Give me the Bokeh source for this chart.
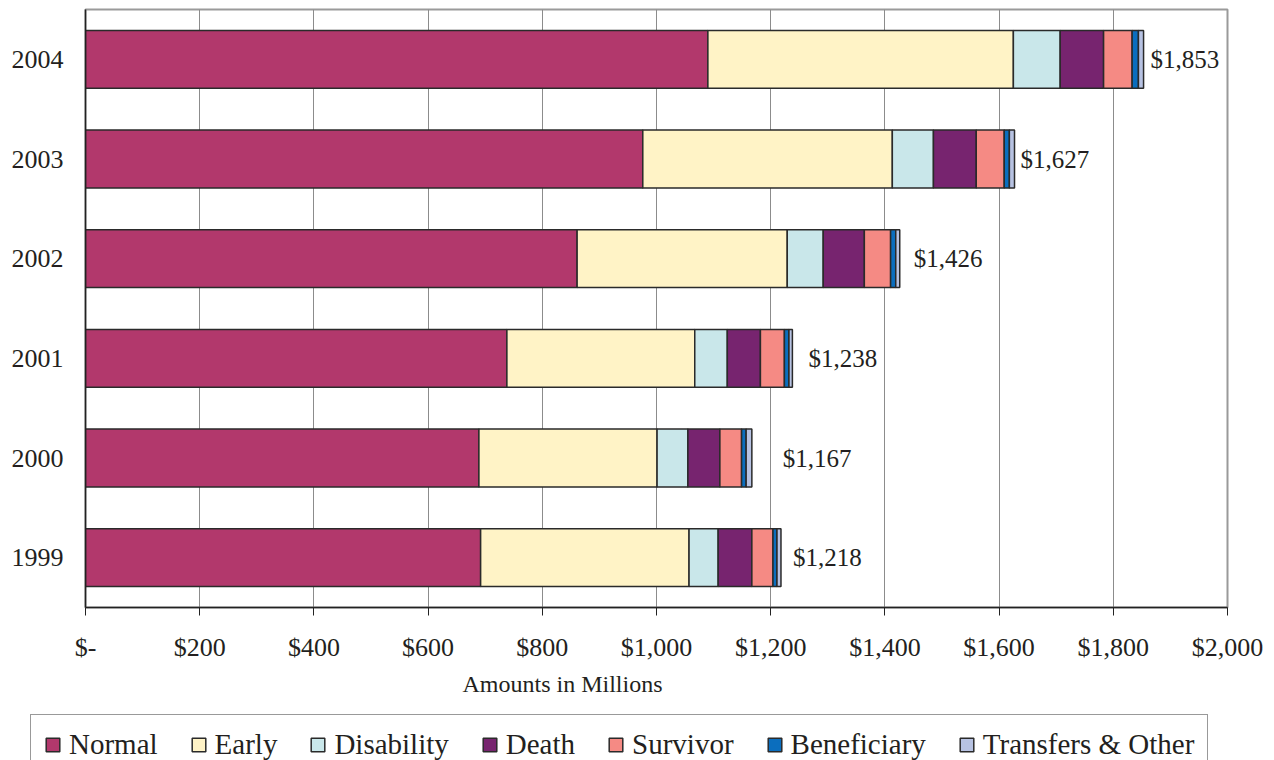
from bokeh.plotting import figure
from bokeh.models import FactorRange, Range1d, FixedTicker, Legend, LegendItem, ColumnDataSource, Title
from bokeh.core.properties import value
from bokeh.embed import file_html
from bokeh.resources import INLINE

# ---- data ----
years = ["1999", "2000", "2001", "2002", "2003", "2004"]
normal = [692, 689, 738, 861, 976, 1090]
early = [365, 312, 329, 368, 437, 535]
disability = [51, 54, 57, 63, 72, 82]
death = [59, 56, 58, 72, 75, 76]
survivor = [37, 38, 42, 46, 49, 50]
beneficiary = [7, 8, 8, 9, 9, 11]
transfers = [7, 10, 6, 7, 9, 9]
totals = [1218, 1167, 1238, 1426, 1627, 1853]
total_labels = ["$1,218", "$1,167", "$1,238", "$1,426", "$1,627", "$1,853"]
series_names = ["Normal", "Early", "Disability", "Death", "Survivor",
                "Beneficiary", "Transfers & Other"]
x_ticks = [0, 200, 400, 600, 800, 1000, 1200, 1400, 1600, 1800, 2000]
x_tick_labels = ["$-", "$200", "$400", "$600", "$800", "$1,000", "$1,200",
                 "$1,400", "$1,600", "$1,800", "$2,000"]
x_axis_title = "Amounts in Millions"

# ---- style ----
colors = ["#B2386C", "#FFF3C6", "#C9E7EA", "#77246F", "#F58A84", "#0B6EBE", "#B7C2E2"]
label_offsets = [12, 31, 16, 14, 6, 7]
FONT = "Liberation Serif"
TXT = "#231F20"

keys = ["normal", "early", "disability", "death", "survivor", "beneficiary", "transfers"]
source = ColumnDataSource(dict(year=years, normal=normal, early=early,
                               disability=disability, death=death,
                               survivor=survivor, beneficiary=beneficiary,
                               transfers=transfers))

p = figure(width=1274, height=700, output_backend="svg", toolbar_location=None,
           y_range=FactorRange(*years, range_padding=0),
           x_range=Range1d(0, 2000),
           min_border_left=85, min_border_right=47,
           min_border_top=9, min_border_bottom=93)

renderers = p.hbar_stack(keys, y="year", height=0.58, color=colors,
                         line_color="#2a2a2a", line_width=1.5, source=source)

lsrc = ColumnDataSource(dict(x=totals, y=years, t=total_labels, off=label_offsets))
p.text(x="x", y="y", text="t", x_offset="off", source=lsrc,
       text_baseline="middle", text_align="left",
       text_font=value(FONT), text_font_size=value("25px"), text_color=TXT)

# axes
p.xaxis.ticker = FixedTicker(ticks=x_ticks)
p.xaxis.major_label_overrides = {t: l for t, l in zip(x_ticks, x_tick_labels)}
p.xaxis.minor_tick_line_color = None
p.xaxis.major_tick_in = 0
p.xaxis.major_tick_out = 8
p.xaxis.major_tick_line_color = "#222222"
p.xaxis.axis_line_color = "#222222"
p.xaxis.axis_line_width = 1.5
p.xaxis.major_label_standoff = 17
p.xaxis.major_label_text_font = FONT
p.xaxis.major_label_text_font_size = "26px"
p.xaxis.major_label_text_color = TXT

# the axis title sits left of centre, as in the original
p.add_layout(Title(text=x_axis_title, align="left", offset=377, standoff=8,
                   text_font=FONT, text_font_style="normal", text_font_size="24px",
                   text_color=TXT), "below")

p.yaxis.major_tick_line_color = None
p.yaxis.minor_tick_line_color = None
p.yaxis.major_tick_out = 0
p.yaxis.major_tick_in = 0
p.yaxis.axis_line_color = "#222222"
p.yaxis.axis_line_width = 1.5
p.yaxis.major_label_standoff = 22
p.yaxis.major_label_text_font = FONT
p.yaxis.major_label_text_font_size = "26px"
p.yaxis.major_label_text_color = TXT

p.xgrid.grid_line_color = "#8c8c8c"
p.xgrid.grid_line_width = 1
p.ygrid.grid_line_color = None
p.outline_line_color = "#9a9a9a"
p.outline_line_width = 2
p.background_fill_color = "white"
p.border_fill_color = "white"

# ---- legend strip (its bars lie outside its own x range, only the legend shows) ----
leg = figure(width=1274, height=60, output_backend="svg", toolbar_location=None,
             x_range=Range1d(100000, 100001), y_range=FactorRange(*years),
             x_axis_location=None, y_axis_location=None,
             min_border_left=30, min_border_right=0, min_border_top=14, min_border_bottom=0)
leg.grid.visible = False
leg.outline_line_color = None
leg_renderers = leg.hbar_stack(keys, y="year", height=0.58, color=colors,
                               line_color="#2a2a2a", line_width=1.5, source=source)

legend = Legend(items=[LegendItem(label=n, renderers=[r]) for n, r in zip(series_names, leg_renderers)],
                orientation="horizontal", location="top_left",
                label_text_font=FONT, label_text_font_size="29px", label_text_color=TXT,
                glyph_width=17, glyph_height=17, label_standoff=8, spacing=32,
                padding=13, margin=0, border_line_color="#333333", border_line_width=1.5,
                background_fill_alpha=1, background_fill_color="white")
leg.add_layout(legend)

open("out.html", "w").write(file_html([p, leg], INLINE))
